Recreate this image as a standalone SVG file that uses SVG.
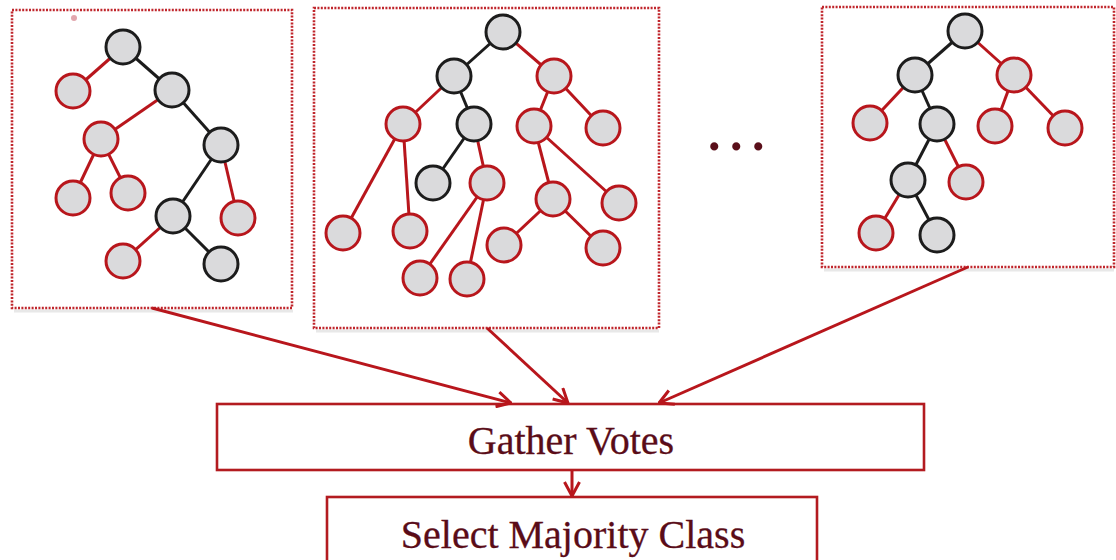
<svg xmlns="http://www.w3.org/2000/svg" width="1116" height="560" viewBox="0 0 1116 560">
<defs>
<style>
.frame{fill:#fff;stroke:#c0262c;stroke-width:2.6;stroke-dasharray:2 1.4}
.shadow{fill:none;stroke:#e8e8e8;stroke-width:3}
.n{fill:#dadadc;stroke-width:3}
.r{stroke:#b8161c}
.k{stroke:#1c1c1c}
.e{stroke-width:3;fill:none}
.box{fill:#fff;stroke:#b31b20;stroke-width:2.6}
.lbl{font-family:"Liberation Serif","Times New Roman",serif;font-size:40px;fill:#5a0c18;text-anchor:middle;stroke:#5a0c18;stroke-width:0.3}
.arr{stroke:#b8161c;stroke-width:3;fill:none}
</style>
<marker id="ah" viewBox="0 0 16 18" refX="15" refY="9" markerWidth="16" markerHeight="18" markerUnits="userSpaceOnUse" orient="auto">
<path d="M1,1.5 L15,9 L1,16.5" fill="none" stroke="#b8161c" stroke-width="3"/>
</marker>
</defs>
<rect width="1116" height="560" fill="#fff"/>

<g id="tree1">
<line class="shadow" x1="14" y1="311" x2="293" y2="311"/>
<rect class="frame" x="12" y="10" width="280" height="298"/>
<circle cx="74" cy="18" r="3" fill="#e2a6ad"/>
<g class="e">
<line class="r" x1="123" y1="47" x2="73" y2="91"/>
<line class="k" x1="123" y1="47" x2="172" y2="90"/>
<line class="r" x1="172" y1="90" x2="101" y2="139"/>
<line class="k" x1="172" y1="90" x2="221" y2="145"/>
<line class="r" x1="101" y1="139" x2="73" y2="198"/>
<line class="r" x1="101" y1="139" x2="128" y2="193"/>
<line class="k" x1="221" y1="145" x2="173" y2="216"/>
<line class="r" x1="221" y1="145" x2="238" y2="218"/>
<line class="r" x1="173" y1="216" x2="123" y2="261"/>
<line class="k" x1="173" y1="216" x2="221" y2="264"/>
</g>
<circle class="n k" cx="123" cy="47" r="17"/>
<circle class="n r" cx="73" cy="91" r="17"/>
<circle class="n k" cx="172" cy="90" r="17"/>
<circle class="n r" cx="101" cy="139" r="17"/>
<circle class="n k" cx="221" cy="145" r="17"/>
<circle class="n r" cx="73" cy="198" r="17"/>
<circle class="n r" cx="128" cy="193" r="17"/>
<circle class="n k" cx="173" cy="216" r="17"/>
<circle class="n r" cx="238" cy="218" r="17"/>
<circle class="n r" cx="123" cy="261" r="17"/>
<circle class="n k" cx="221" cy="264" r="17"/>
</g>

<g id="tree2">
<line class="shadow" x1="316" y1="331" x2="659" y2="331"/>
<rect class="frame" x="314" y="8" width="345" height="320"/>
<g class="e">
<line class="k" x1="503" y1="32" x2="454" y2="76"/>
<line class="r" x1="503" y1="32" x2="554" y2="76"/>
<line class="r" x1="454" y1="76" x2="403" y2="124"/>
<line class="k" x1="454" y1="76" x2="474" y2="124"/>
<line class="k" x1="474" y1="124" x2="433" y2="183"/>
<line class="r" x1="474" y1="124" x2="487" y2="183"/>
<line class="r" x1="403" y1="124" x2="343" y2="233"/>
<line class="r" x1="403" y1="124" x2="410" y2="231"/>
<line class="r" x1="487" y1="183" x2="420" y2="278"/>
<line class="r" x1="487" y1="183" x2="467" y2="279"/>
<line class="r" x1="554" y1="76" x2="534" y2="126"/>
<line class="r" x1="554" y1="76" x2="603" y2="128"/>
<line class="r" x1="534" y1="126" x2="553" y2="199"/>
<line class="r" x1="534" y1="126" x2="619" y2="203"/>
<line class="r" x1="553" y1="199" x2="504" y2="245"/>
<line class="r" x1="553" y1="199" x2="603" y2="248"/>
</g>
<circle class="n k" cx="503" cy="32" r="17"/>
<circle class="n k" cx="454" cy="76" r="17"/>
<circle class="n r" cx="554" cy="76" r="17"/>
<circle class="n r" cx="403" cy="124" r="17"/>
<circle class="n k" cx="474" cy="124" r="17"/>
<circle class="n r" cx="534" cy="126" r="17"/>
<circle class="n r" cx="603" cy="128" r="17"/>
<circle class="n k" cx="433" cy="183" r="17"/>
<circle class="n r" cx="487" cy="183" r="17"/>
<circle class="n r" cx="553" cy="199" r="17"/>
<circle class="n r" cx="619" cy="203" r="17"/>
<circle class="n r" cx="343" cy="233" r="17"/>
<circle class="n r" cx="410" cy="231" r="17"/>
<circle class="n r" cx="504" cy="245" r="17"/>
<circle class="n r" cx="603" cy="248" r="17"/>
<circle class="n r" cx="420" cy="278" r="17"/>
<circle class="n r" cx="467" cy="279" r="17"/>
</g>

<text x="741" y="150" font-family="'Liberation Serif',serif" font-size="50" font-weight="bold" fill="#5a0f1a" text-anchor="middle" letter-spacing="9.5">...</text>

<g id="tree3">
<line class="shadow" x1="824" y1="270" x2="1114" y2="270"/>
<rect class="frame" x="822" y="7" width="292" height="260"/>
<g class="e">
<line class="k" x1="965" y1="31" x2="915" y2="75"/>
<line class="r" x1="965" y1="31" x2="1014" y2="75"/>
<line class="r" x1="915" y1="75" x2="870" y2="123"/>
<line class="k" x1="915" y1="75" x2="937" y2="124"/>
<line class="k" x1="937" y1="124" x2="908" y2="180"/>
<line class="r" x1="937" y1="124" x2="966" y2="182"/>
<line class="r" x1="908" y1="180" x2="876" y2="233"/>
<line class="k" x1="908" y1="180" x2="937" y2="235"/>
<line class="r" x1="1014" y1="75" x2="995" y2="126"/>
<line class="r" x1="1014" y1="75" x2="1065" y2="128"/>
</g>
<circle class="n k" cx="965" cy="31" r="17"/>
<circle class="n k" cx="915" cy="75" r="17"/>
<circle class="n r" cx="1014" cy="75" r="17"/>
<circle class="n r" cx="870" cy="123" r="17"/>
<circle class="n k" cx="937" cy="124" r="17"/>
<circle class="n r" cx="995" cy="126" r="17"/>
<circle class="n r" cx="1065" cy="128" r="17"/>
<circle class="n k" cx="908" cy="180" r="17"/>
<circle class="n r" cx="966" cy="182" r="17"/>
<circle class="n r" cx="876" cy="233" r="17"/>
<circle class="n k" cx="937" cy="235" r="17"/>
</g>

<g id="gather">
<rect class="box" x="217" y="404" width="707" height="66"/>
<text class="lbl" x="571" y="454">Gather Votes</text>
</g>

<g id="select">
<rect class="box" x="327" y="497" width="490" height="80"/>
<text class="lbl" x="573" y="548">Select Majority Class</text>
</g>

<g id="connectors">
<line class="arr" x1="152" y1="308" x2="511" y2="403" marker-end="url(#ah)"/>
<line class="arr" x1="487" y1="328" x2="568" y2="403" marker-end="url(#ah)"/>
<line class="arr" x1="968" y1="267" x2="659" y2="403" marker-end="url(#ah)"/>
<line class="arr" x1="572" y1="470" x2="572" y2="496" marker-end="url(#ah)"/>
</g>
</svg>
